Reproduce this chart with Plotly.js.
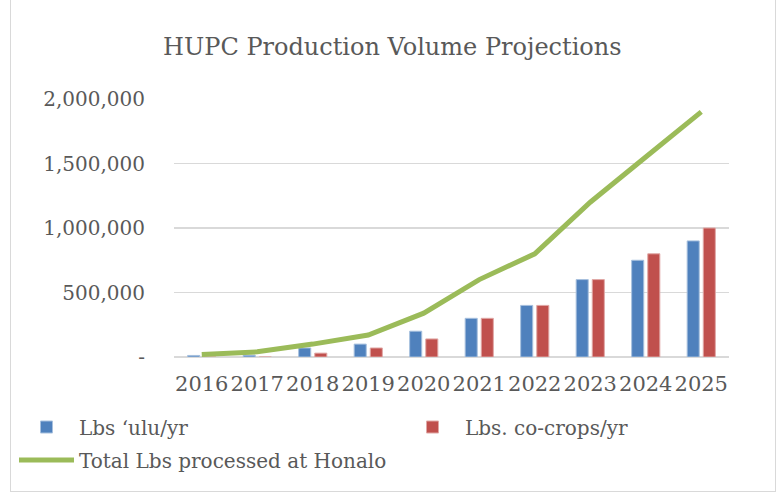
<!DOCTYPE html>
<html>
<head>
<meta charset="utf-8">
<script src="https://cdn.plot.ly/plotly-3.0.1.min.js"></script>
<style>
html,body{margin:0;padding:0;background:#fff;}
#wrap{position:relative;width:780px;height:493px;}
#chart{position:absolute;left:0;top:0;width:780px;height:493px;}
#frame{position:absolute;left:10px;top:0;width:764px;height:491px;border:1px solid #d9d9d9;border-top:none;pointer-events:none;}
</style>
</head>
<body>
<div id="wrap"><div id="chart"></div><div id="frame"></div></div>
<script>
const years = ['2016','2017','2018','2019','2020','2021','2022','2023','2024','2025'];
const uluLbs = [12000, 14000, 70000, 100000, 200000, 300000, 400000, 600000, 750000, 900000];
const coCropLbs = [0, 0, 30000, 70000, 140000, 300000, 400000, 600000, 800000, 1000000];
const totalLbs = [20000, 40000, 100000, 170000, 340000, 600000, 800000, 1200000, 1550000, 1900000];
const yTickVals = [0, 500000, 1000000, 1500000, 2000000];
const yTickText = ['-', '500,000', '1,000,000', '1,500,000', '2,000,000'];

(function(){
const serif = 'DejaVu Serif, Liberation Serif, serif';
const grey = '#595959';

const traces = [
  {type:'bar', name:'Lbs \u2018ulu/yr', x:years, y:uluLbs,
   marker:{color:'#4f81bd', line:{color:'#a7c0de', width:1}}, legend:'legend'},
  {type:'bar', name:'Lbs. co-crops/yr', x:years, y:coCropLbs,
   marker:{color:'#c0504d', line:{color:'#e0a8a6', width:1}}, legend:'legend3'},
  {type:'scatter', mode:'lines', name:'Total Lbs processed at Honalo', x:years, y:totalLbs,
   line:{color:'#9bbb59', width:5}, legend:'legend2'}
];

const W = 780, H = 493;
const mL = 174, mR = 51, mT = 99, mB = 136;
const ph = H - mT - mB;
const pw = W - mL - mR;
const legFont = {family:serif, size:20, color:grey};
function leg(px, py){
  return {orientation:'h', x:(px-mL)/pw, xanchor:'left', y:(H-mB-py)/ph, yanchor:'middle',
          font:legFont, itemwidth:55, bgcolor:'rgba(0,0,0,0)'};
}

const layout = {
  width:W, height:H,
  margin:{l:mL, r:mR, t:mT, b:mB, pad:0},
  paper_bgcolor:'#ffffff', plot_bgcolor:'#ffffff',
  title:{text:'HUPC Production Volume Projections', font:{family:serif, size:24, color:grey},
         x:0.503, xref:'container', xanchor:'center', y:1-47/H, yref:'container', yanchor:'middle'},
  barmode:'group', bargap:0.42, bargroupgap:0.25,
  xaxis:{type:'category', tickfont:{family:serif, size:21, color:grey}, showgrid:false,
         showline:false, ticks:'', ticklabelstandoff:12, tickangle:0},
  yaxis:{range:[0, 2000000], tickvals:yTickVals, ticktext:yTickText, tickmode:'array',
         tickfont:{family:serif, size:20, color:grey}, showgrid:true, gridcolor:'#d9d9d9', gridwidth:1.5,
         zeroline:true, zerolinecolor:'#d9d9d9', zerolinewidth:1.5, showline:false, ticks:'',
         ticklabelstandoff:28},
  showlegend:true,
  legend:leg(14, 427),
  legend3:leg(400, 427),
  legend2:leg(14, 460)
};

Plotly.newPlot('chart', traces, layout, {displayModeBar:false, staticPlot:true});
})();
</script>
</body>
</html>
